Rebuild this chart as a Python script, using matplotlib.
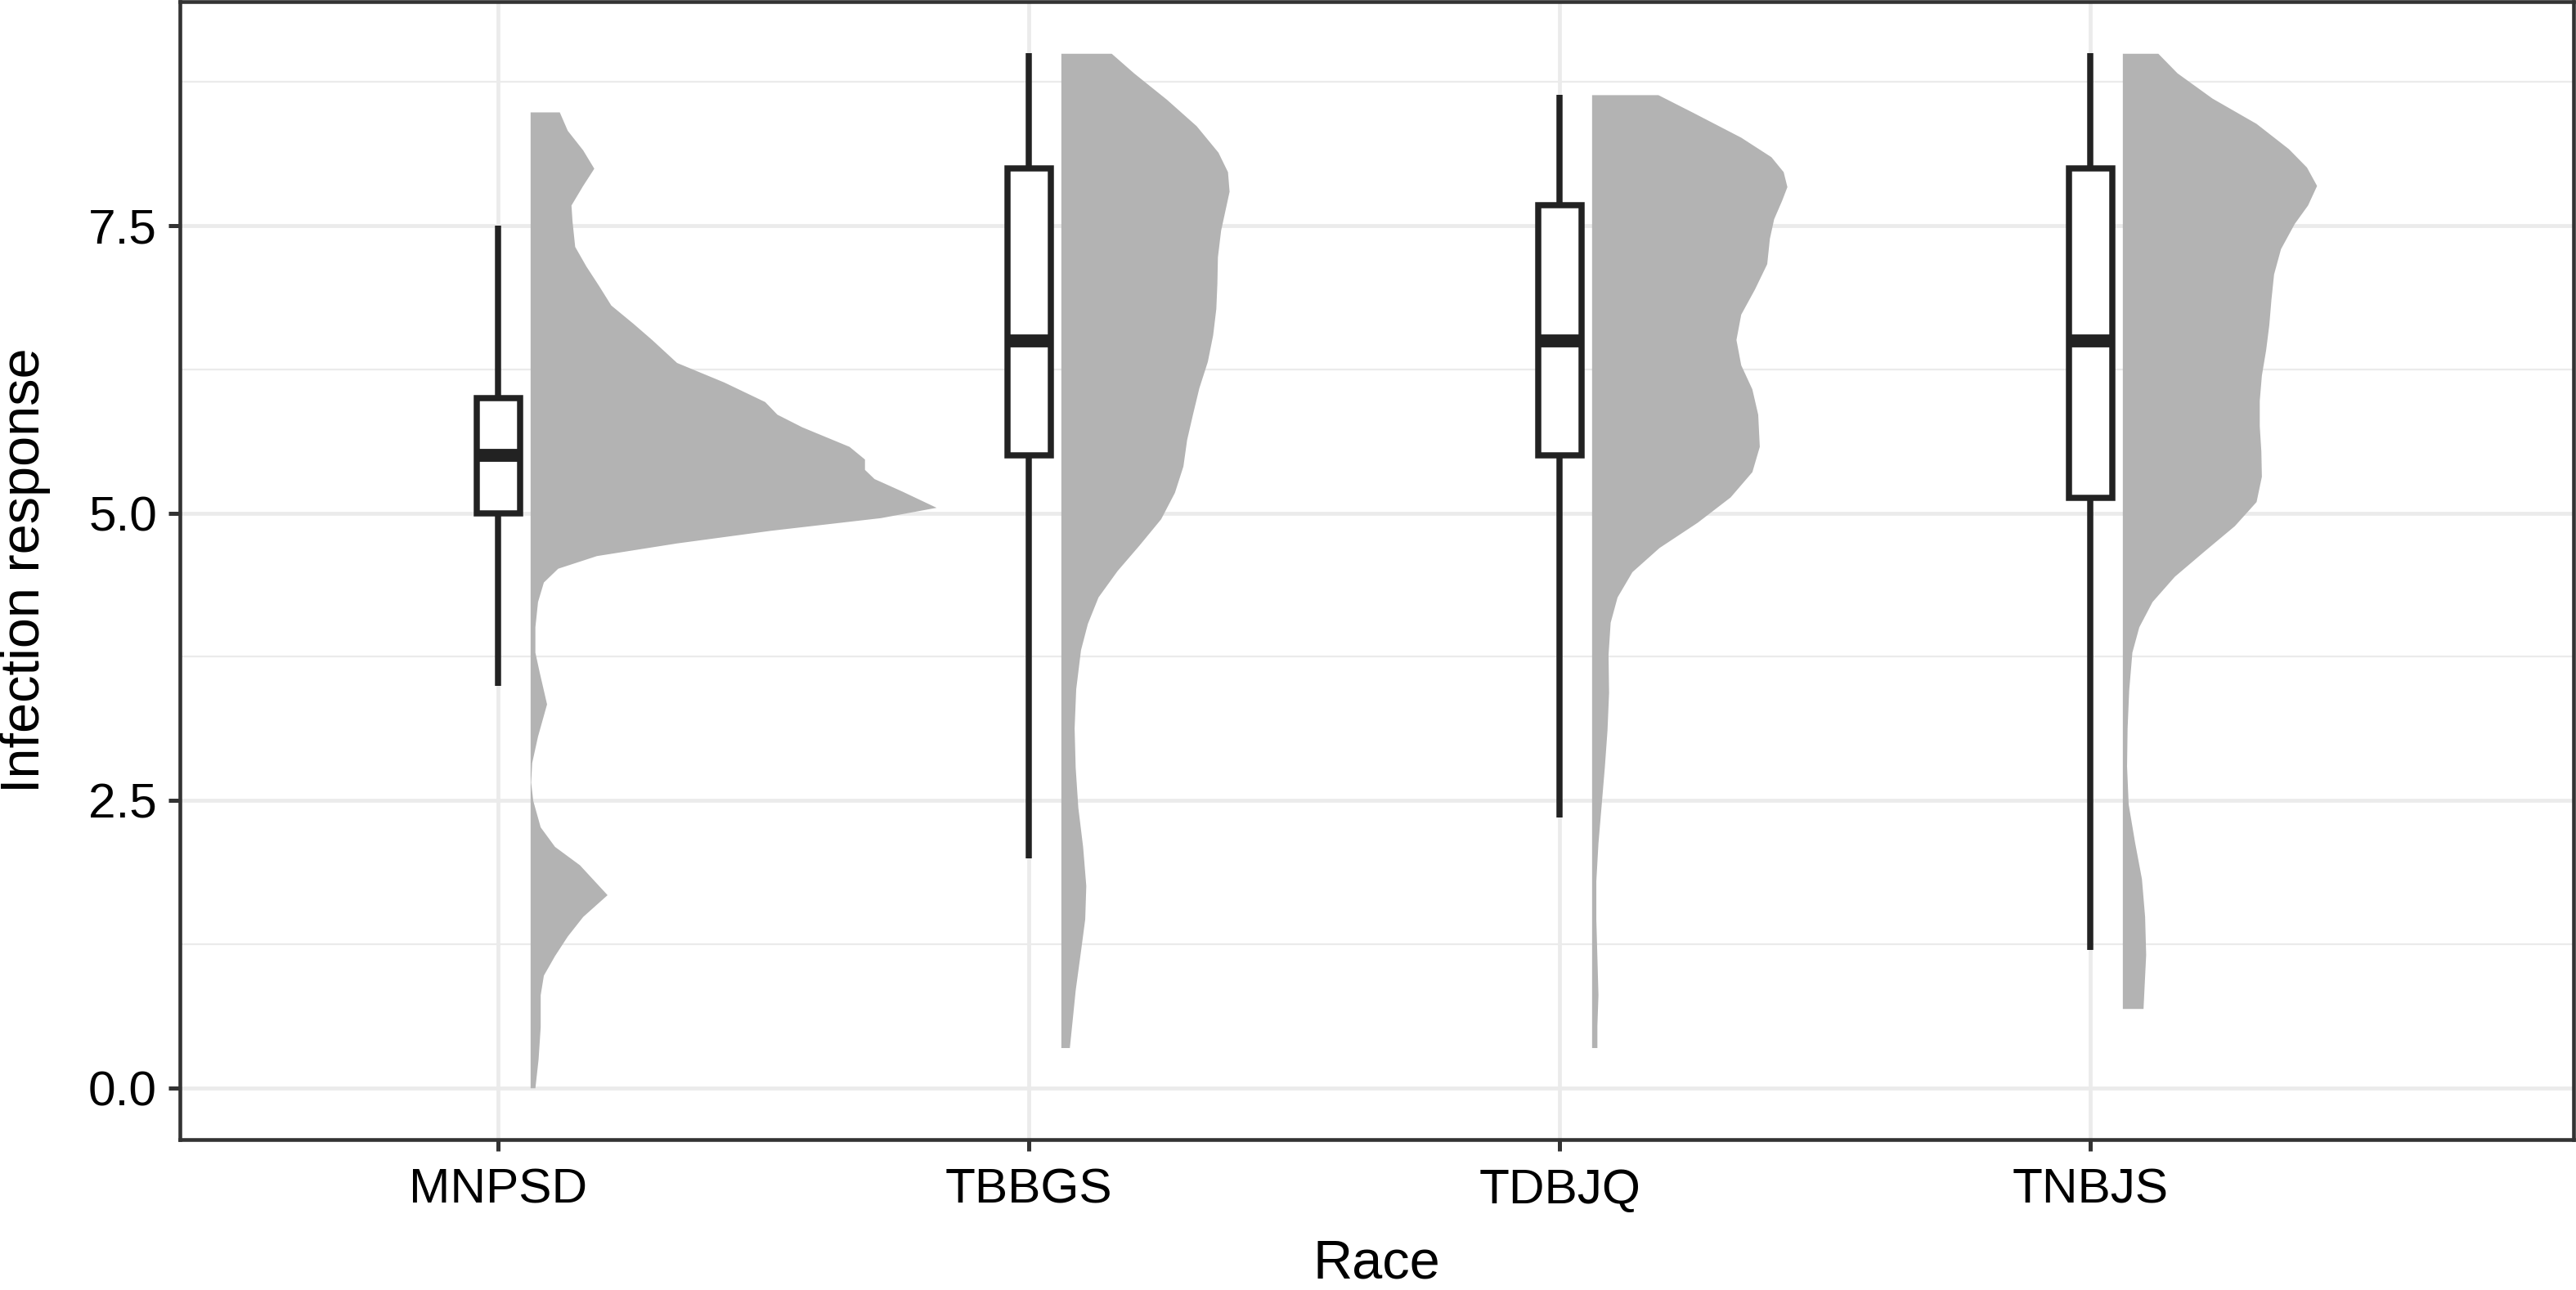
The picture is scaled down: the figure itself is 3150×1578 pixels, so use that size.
import matplotlib
matplotlib.use("Agg")
import matplotlib.pyplot as plt

plt.rcParams['font.family'] = ['Liberation Sans', 'DejaVu Sans']

races = ['MNPSD', 'TBBGS', 'TDBJQ', 'TNBJS']

# box statistics
whis_lo = [3.5, 2.0, 2.35, 1.2]
q1 = [5.0, 5.5, 5.5, 5.13]
med = [5.5, 6.5, 6.5, 6.5]
q3 = [6.0, 8.0, 7.68, 8.0]
whis_hi = [7.5, 9.0, 8.64, 9.0]

# half violin outlines: response level and width (x units)
mnpsd_y = [8.49, 8.33, 8.16, 8.00, 7.85, 7.68, 7.54, 7.32, 7.15, 6.98, 6.81, 6.65, 6.51, 6.31, 6.14,
           5.97, 5.86, 5.75, 5.58, 5.47, 5.38, 5.30, 5.19, 5.05, 4.96, 4.85, 4.74, 4.63, 4.52, 4.40,
           4.23, 4.01, 3.79, 3.62, 3.34, 3.06, 2.83, 2.66, 2.50, 2.27, 2.10, 1.94, 1.68, 1.49, 1.32,
           1.15, 0.98, 0.81, 0.53, 0.25, 0.00]
mnpsd_w = [0.055, 0.070, 0.099, 0.120, 0.099, 0.077, 0.079, 0.084, 0.105, 0.129, 0.152, 0.194, 0.229, 0.276, 0.365,
           0.442, 0.465, 0.512, 0.601, 0.630, 0.630, 0.648, 0.701, 0.765, 0.660, 0.453, 0.276, 0.125, 0.052, 0.025,
           0.014, 0.009, 0.009, 0.017, 0.031, 0.014, 0.003, 0.001, 0.005, 0.019, 0.046, 0.093, 0.145, 0.099, 0.070,
           0.046, 0.025, 0.019, 0.019, 0.015, 0.009]

tbbgs_y = [9.00, 8.83, 8.60, 8.37, 8.14, 7.97, 7.80, 7.63, 7.46, 7.23, 7.00, 6.78, 6.55, 6.32, 6.09, 5.86, 5.64, 5.41,
           5.18, 4.95, 4.72, 4.50, 4.27, 4.04, 3.81, 3.47, 3.13, 2.79, 2.44, 2.10, 1.76, 1.47, 1.19, 0.85, 0.62, 0.35]
tbbgs_w = [0.095, 0.137, 0.199, 0.255, 0.296, 0.314, 0.317, 0.309, 0.301, 0.295, 0.294, 0.292, 0.286, 0.276, 0.260,
           0.248, 0.237, 0.230, 0.214, 0.188, 0.147, 0.106, 0.070, 0.050, 0.037, 0.028, 0.025, 0.027, 0.032, 0.041,
           0.047, 0.045, 0.037, 0.027, 0.022, 0.016]

tdbjq_y = [8.64, 8.49, 8.27, 8.10, 7.97, 7.84, 7.72, 7.56, 7.39, 7.17, 6.95, 6.73, 6.51, 6.29, 6.08, 5.86, 5.58, 5.36,
           5.14, 4.92, 4.70, 4.49, 4.27, 4.05, 3.77, 3.44, 3.11, 2.79, 2.46, 2.13, 1.80, 1.47, 1.14, 0.81, 0.54, 0.35]
tdbjq_w = [0.125, 0.189, 0.281, 0.338, 0.361, 0.368, 0.358, 0.343, 0.335, 0.330, 0.307, 0.281, 0.272, 0.281, 0.302,
           0.313, 0.316, 0.302, 0.261, 0.199, 0.127, 0.076, 0.048, 0.035, 0.031, 0.032, 0.029, 0.024, 0.018, 0.012,
           0.008, 0.008, 0.010, 0.012, 0.010, 0.010]

tnbjs_y = [9.00, 8.83, 8.61, 8.39, 8.17, 8.01, 7.85, 7.68, 7.52, 7.30, 7.08, 6.86, 6.64, 6.42, 6.20, 5.98, 5.76, 5.54,
           5.32, 5.10, 4.89, 4.67, 4.45, 4.23, 4.01, 3.79, 3.46, 3.13, 2.80, 2.47, 2.14, 1.82, 1.49, 1.16, 0.88, 0.69]
tnbjs_w = [0.067, 0.103, 0.169, 0.252, 0.313, 0.347, 0.366, 0.349, 0.324, 0.298, 0.285, 0.280, 0.276, 0.270, 0.262,
           0.258, 0.258, 0.261, 0.262, 0.252, 0.211, 0.154, 0.098, 0.056, 0.031, 0.018, 0.012, 0.009, 0.008, 0.011,
           0.023, 0.036, 0.042, 0.044, 0.041, 0.039]

violins = [(mnpsd_y, mnpsd_w), (tbbgs_y, tbbgs_w), (tdbjq_y, tdbjq_w), (tnbjs_y, tnbjs_w)]

fig = plt.figure(figsize=(10.5, 5.26), dpi=300)
ax = fig.add_axes([220 / 3150, 1 - 1394 / 1578, 2927 / 3150, 1392 / 1578])

pos = [1, 2, 3, 4]
for p, (vy, vw) in zip(pos, violins):
    base = p + 0.06
    ax.fill_betweenx(vy, base, [base + w for w in vw], color='#B3B3B3', lw=0, zorder=2)

stats = []
for i in range(len(races)):
    stats.append(dict(med=med[i], q1=q1[i], q3=q3[i], whislo=whis_lo[i], whishi=whis_hi[i], fliers=[]))

ax.bxp(stats, positions=pos, widths=0.081, patch_artist=True, showfliers=False, showcaps=False,
       manage_ticks=False, zorder=3,
       boxprops=dict(facecolor='white', edgecolor='#222222', linewidth=1.8),
       whiskerprops=dict(color='#222222', linewidth=1.8, solid_capstyle='butt'),
       medianprops=dict(color='#222222', linewidth=3.8, solid_capstyle='butt'))

ax.set_xlim(0.40, 4.91)
ax.set_ylim(-0.45, 9.45)
ax.set_xticks(pos)
ax.set_xticklabels(races)
ax.set_yticks([0, 2.5, 5.0, 7.5])
ax.set_yticklabels(['0.0', '2.5', '5.0', '7.5'])
ax.set_yticks([1.25, 3.75, 6.25, 8.75], minor=True)

ax.set_axisbelow(True)
ax.grid(which='major', color='#EBEBEB', lw=1.15)
ax.grid(which='minor', axis='y', color='#EBEBEB', lw=0.55)

for s in ax.spines.values():
    s.set_color('#333333')
    s.set_linewidth(1.1)

ax.tick_params(which='major', length=3.4, width=1.2, color='#333333', labelsize=14.5, labelcolor='black')
ax.tick_params(axis='x', pad=5.0)
ax.tick_params(axis='y', pad=3.3)
ax.tick_params(which='minor', length=0)

ax.set_xlabel('Race', fontsize=16)
ax.set_ylabel('Infection response', fontsize=16)
ax.xaxis.set_label_coords(0.5, -0.087)
ax.yaxis.set_label_coords(-0.054, 0.5)

fig.savefig('out.png', dpi=300)
